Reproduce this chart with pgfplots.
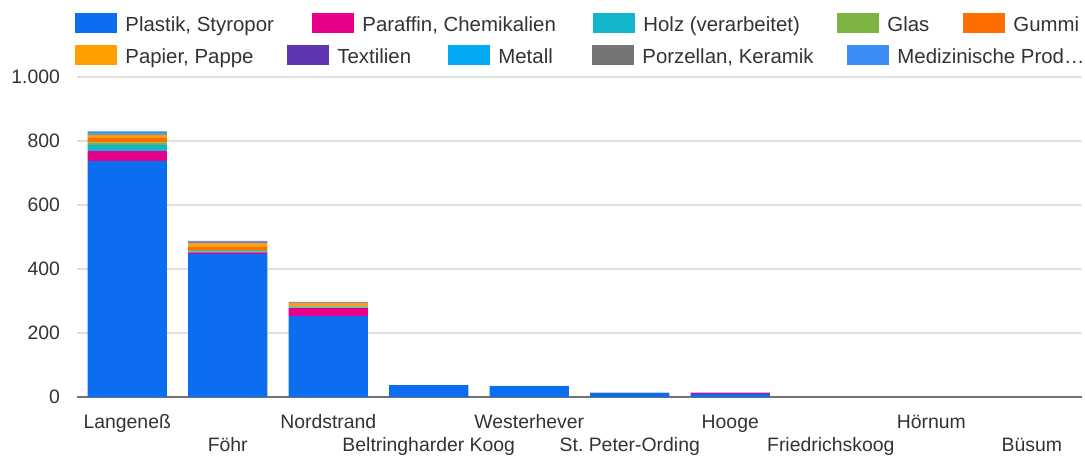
\documentclass[border=0pt]{standalone}
\usepackage{pgfplots}
\pgfplotsset{compat=1.18}
\usepackage{pgfplotstable}
\usepackage{fontspec}
\setmainfont{Liberation Sans}
\frenchspacing
\definecolor{cPlastik}{HTML}{0B6EF0}
\definecolor{cParaffin}{HTML}{E8008A}
\definecolor{cHolz}{HTML}{12B5CB}
\definecolor{cGlas}{HTML}{7CB342}
\definecolor{cGummi}{HTML}{FF6D00}
\definecolor{cPapier}{HTML}{FFA000}
\definecolor{cTextil}{HTML}{5E35B1}
\definecolor{cMetall}{HTML}{03A9F4}
\definecolor{cPorz}{HTML}{757575}
\definecolor{cMediz}{HTML}{3D8BF5}
\definecolor{txt}{HTML}{333333}
\pgfplotstableread{
x plastik paraffin holz glas gummi papier textil metall porz mediz
0 738 30 20 8 14 8 2 3 2 5
1 447 5 3 5 8 12 3 2 1 2
2 253 25 2 3 3 8 1 1 0 1
3 37 0 0 0 0 0 0 0 0 0.5
4 34 0 0 0 0 0 0 0 0 0.5
5 12 0.5 0 0 0 0.5 0 0 0 0.5
6 10 2 0 0 0 0 1.5 0 0 0
7 0 0 0 0 0 0 0 0 0 0
8 0 0 0 0 0 0 0 0 0 0
9 0 0 0 0 0 0 0 0 0 0
}\datatable
\begin{document}
\begin{tikzpicture}
\useasboundingbox (0,0) rectangle (542.5pt,-228pt);
\begin{axis}[
  scale only axis,
  width=502.5pt, height=160pt,
  at={(38.5pt,-198.5pt)}, anchor=south west,
  xmin=-0.5, xmax=9.5, ymin=0, ymax=1000,
  ybar stacked, bar width=0.79,
  axis line style={draw=none},
  tick style={draw=none},
  ymajorgrids, grid style={color=black!12, line width=0.6pt},
  ytick={200,400,600,800,1000},
  extra y ticks={0},
  extra y tick style={grid style={color=black!55, line width=1pt}},
  /pgf/number format/.cd, 1000 sep={.}, assume math mode=true,
  /pgfplots/.cd,
  yticklabel style={font=\fontsize{9.7}{11}\selectfont, text=txt, anchor=east, xshift=-5pt},
  xtick={0,2,4,6,8},
  xticklabels={Langeneß, Nordstrand, Westerhever, Hooge, Hörnum},
  extra x ticks={1,3,5,7,9},
  extra x tick labels={Föhr, Beltringharder Koog, St.\ Peter-Ording, Friedrichskoog, Büsum},
  extra x tick style={grid=none, xticklabel style={yshift=-11.5pt}},
  xticklabel style={font=\fontsize{9.7}{11}\selectfont, text=txt, anchor=base, yshift=-15.5pt},
  every axis plot/.append style={draw=none},
]
\addplot[fill=cPlastik] table[x=x,y=plastik]{\datatable};
\addplot[fill=cParaffin] table[x=x,y=paraffin]{\datatable};
\addplot[fill=cHolz] table[x=x,y=holz]{\datatable};
\addplot[fill=cGlas] table[x=x,y=glas]{\datatable};
\addplot[fill=cGummi] table[x=x,y=gummi]{\datatable};
\addplot[fill=cPapier] table[x=x,y=papier]{\datatable};
\addplot[fill=cTextil] table[x=x,y=textil]{\datatable};
\addplot[fill=cMetall] table[x=x,y=metall]{\datatable};
\addplot[fill=cPorz] table[x=x,y=porz]{\datatable};
\addplot[fill=cMediz] table[x=x,y=mediz]{\datatable};
\end{axis}
% legend
\foreach \x/\c/\t in {75/cPlastik/{Plastik, Styropor}, 312/cParaffin/{Paraffin, Chemikalien}, 593/cHolz/{Holz (verarbeitet)}, 837/cGlas/{Glas}, 963/cGummi/{Gummi}}{
  \fill[\c] (\x*0.5pt, -33*0.5pt) rectangle ++(21pt,10pt);
  \node[anchor=base west, inner sep=0pt, text=txt, font=\fontsize{10.2}{12}\selectfont] at (\x*0.5pt+25pt, -15.5pt) {\t};
}
\foreach \x/\c/\t in {75/cPapier/{Papier, Pappe}, 287/cTextil/{Textilien}, 448/cMetall/{Metall}, 592/cPorz/{Porzellan, Keramik}, 847/cMediz/{Medizinische Prod…}}{
  \fill[\c] (\x*0.5pt, -65*0.5pt) rectangle ++(21pt,10pt);
  \node[anchor=base west, inner sep=0pt, text=txt, font=\fontsize{10.2}{12}\selectfont] at (\x*0.5pt+25pt, -31.5pt) {\t};
}
\end{tikzpicture}
\end{document}
